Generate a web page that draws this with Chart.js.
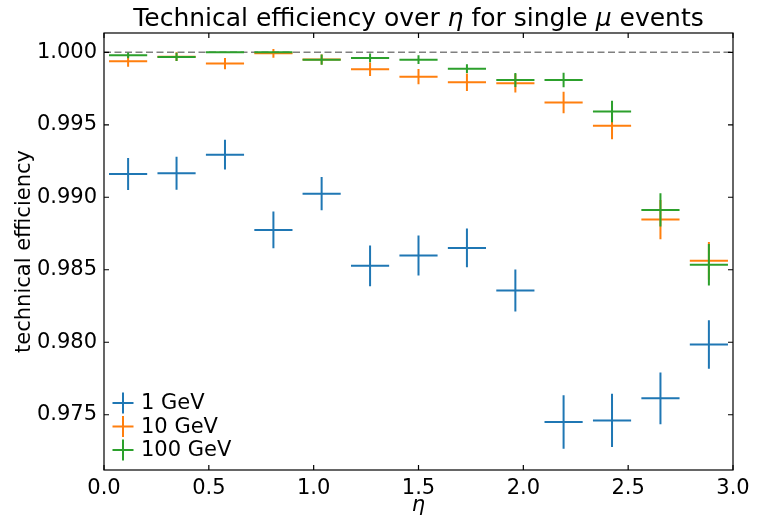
<!DOCTYPE html>
<html>
<head>
<meta charset="utf-8">
<script src="https://cdn.jsdelivr.net/npm/chart.js@4.4.0/dist/chart.umd.min.js"></script>
<style>
  html, body { margin: 0; background: #fff; }
  #wrap { width: 763px; height: 518px; }
</style>
</head>
<body>
<div id="wrap"><canvas id="myChart"></canvas></div>
<script>
// eta bin centres (13 bins over 0..3) and half width of the horizontal bars
const etaCenters = [0.115, 0.346, 0.577, 0.808, 1.038, 1.269, 1.5, 1.731, 1.962, 2.192, 2.423, 2.654, 2.885];
const etaHalfWidth = 0.091;

const seriesLabels = ['1 GeV', '10 GeV', '100 GeV'];
const seriesColors = ['#1f77b4', '#ff7f0e', '#2ca02c'];

const eff1GeV = [0.99161, 0.99166, 0.99294, 0.98775, 0.99025, 0.98527, 0.98598, 0.98651, 0.98357, 0.97450, 0.97461, 0.97613, 0.97985];
const err1GeV = [0.0011, 0.00114, 0.00103, 0.00127, 0.00114, 0.00141, 0.00138, 0.00134, 0.00145, 0.00184, 0.00184, 0.00178, 0.00167];

const eff10GeV = [0.99938, 0.99970, 0.99922, 0.99993, 0.99950, 0.99883, 0.99832, 0.99793, 0.99786, 0.99653, 0.99494, 0.98846, 0.98562];
const err10GeV = [0.00038, 0.0003, 0.00039, 0.0003, 0.00035, 0.00046, 0.00052, 0.0006, 0.00064, 0.00074, 0.00094, 0.00136, 0.0013];

const eff100GeV = [0.99979, 0.99968, 1.0, 1.0, 0.99949, 0.99961, 0.99949, 0.99887, 0.99809, 0.99809, 0.99591, 0.98913, 0.98534];
const err100GeV = [0.0002, 0.00028, 0, 0, 0.00035, 0.0003, 0.0003, 0.0003, 0.00048, 0.0005, 0.00074, 0.00115, 0.00143];

const refLevel = 1.0;

const xMin = 0, xMax = 3, xStep = 0.5;
const yMin = 0.97119, yMax = 1.00133, yStep = 0.005;

const FONT = 'DejaVu Sans';
const FS = 21;

// each point becomes a "+" : horizontal bar then vertical error bar, gaps in between
function crossData(vals, errs) {
  const pts = [];
  etaCenters.forEach((c, i) => {
    pts.push({x: c - etaHalfWidth, y: vals[i]}, {x: c + etaHalfWidth, y: vals[i]}, {x: null, y: null});
    if (errs[i] > 0) {
      pts.push({x: c, y: vals[i] - errs[i]}, {x: c, y: vals[i] + errs[i]}, {x: null, y: null});
    }
  });
  return pts;
}

function crossDataset(i, vals, errs) {
  return {
    label: seriesLabels[i],
    data: crossData(vals, errs),
    showLine: true,
    spanGaps: false,
    borderColor: seriesColors[i],
    backgroundColor: seriesColors[i],
    borderWidth: 2,
    pointRadius: 0,
    pointHoverRadius: 0,
    order: 3 - i
  };
}

// frame with inward ticks, mixed-italic title, legend in the lower left corner
const framePlugin = {
  id: 'frame',
  afterDatasetsDraw(chart) {
    const {ctx, chartArea: a, scales: {x, y}} = chart;
    const tickLen = 5;
    ctx.save();
    ctx.strokeStyle = '#000';
    ctx.lineWidth = 1.2;
    ctx.strokeRect(a.left, a.top, a.right - a.left, a.bottom - a.top);
    ctx.beginPath();
    x.ticks.forEach(t => {
      const px = x.getPixelForValue(t.value);
      ctx.moveTo(px, a.bottom); ctx.lineTo(px, a.bottom - tickLen);
      ctx.moveTo(px, a.top); ctx.lineTo(px, a.top + tickLen);
    });
    y.ticks.forEach(t => {
      const py = y.getPixelForValue(t.value);
      ctx.moveTo(a.left, py); ctx.lineTo(a.left + tickLen, py);
      ctx.moveTo(a.right, py); ctx.lineTo(a.right - tickLen, py);
    });
    ctx.stroke();

    // legend
    ctx.font = FS + 'px "' + FONT + '"';
    ctx.textBaseline = 'middle';
    ctx.textAlign = 'left';
    seriesLabels.forEach((lab, i) => {
      const cy = a.bottom - 67 + i * 23.5;
      const cx = a.left + 19;
      ctx.strokeStyle = seriesColors[i];
      ctx.lineWidth = 2;
      ctx.beginPath();
      ctx.moveTo(cx - 10.5, cy); ctx.lineTo(cx + 10.5, cy);
      ctx.moveTo(cx, cy - 10.5); ctx.lineTo(cx, cy + 10.5);
      ctx.stroke();
      ctx.fillStyle = '#000';
      ctx.fillText(lab, cx + 18, cy + 1);
    });

    // title
    const parts = [
      ['Technical efficiency over ', 'normal'],
      ['η', 'italic'],
      [' for single ', 'normal'],
      ['μ', 'italic'],
      [' events', 'normal']
    ];
    let total = 0;
    parts.forEach(p => {
      ctx.font = p[1] + ' 25px "' + FONT + '"';
      p.push(ctx.measureText(p[0]).width);
      total += p[2];
    });
    let tx = (a.left + a.right) / 2 - total / 2;
    ctx.textBaseline = 'alphabetic';
    ctx.fillStyle = '#000';
    parts.forEach(p => {
      ctx.font = p[1] + ' 25px "' + FONT + '"';
      ctx.fillText(p[0], tx, 26);
      tx += p[2];
    });
    ctx.restore();
  }
};

const ctx = document.getElementById('myChart').getContext('2d');

const data = {
  datasets: [
    crossDataset(0, eff1GeV, err1GeV),
    crossDataset(1, eff10GeV, err10GeV),
    crossDataset(2, eff100GeV, err100GeV),
    {
      label: 'ref',
      data: [{x: xMin, y: refLevel}, {x: xMax, y: refLevel}],
      showLine: true,
      borderColor: '#808080',
      borderWidth: 1.5,
      borderDash: [7, 3.5],
      pointRadius: 0,
      order: 10
    }
  ]
};

const config = {
  type: 'scatter',
  data: data,
  options: {
    responsive: true,
    maintainAspectRatio: false,
    animation: false,
    layout: { padding: { top: 33, right: 30, left: 0, bottom: 0 } },
    plugins: {
      legend: { display: false },
      title: { display: false },
      tooltip: { enabled: false }
    },
    scales: {
      x: {
        type: 'linear',
        min: xMin,
        max: xMax,
        afterFit: (s) => { s.height = 48; },
        grid: { display: false, drawTicks: false },
        border: { display: false },
        ticks: {
          stepSize: xStep,
          includeBounds: false,
          padding: 6,
          color: '#000',
          font: { family: FONT, size: FS },
          callback: (v) => v.toFixed(1)
        },
        title: {
          display: true,
          text: 'η',
          color: '#000',
          font: { family: FONT, size: FS, style: 'italic' },
          padding: { top: 0, bottom: 0 }
        }
      },
      y: {
        type: 'linear',
        min: yMin,
        max: yMax,
        afterFit: (s) => { s.width = 104; },
        grid: { display: false, drawTicks: false },
        border: { display: false },
        ticks: {
          stepSize: yStep,
          includeBounds: false,
          padding: 7,
          color: '#000',
          font: { family: FONT, size: FS },
          callback: (v) => v.toFixed(3)
        },
        title: {
          display: true,
          text: 'technical efficiency',
          color: '#000',
          font: { family: FONT, size: FS },
          padding: { top: 12, bottom: 0 }
        }
      }
    }
  },
  plugins: [framePlugin]
};

const myChart = new Chart(ctx, config);
</script>
</body>
</html>
